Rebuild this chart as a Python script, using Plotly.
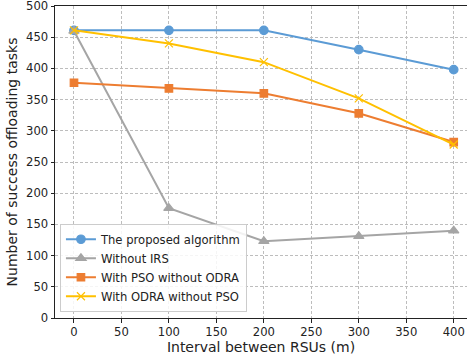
import plotly.graph_objects as go

x_vals = [0, 100, 200, 300, 400]
proposed = [461, 461, 461, 430, 398]
without_irs = [460, 176, 123, 131, 140]
pso_no_odra = [377, 368, 360, 328, 282]
odra_no_pso = [461, 440, 410, 352, 278]

series = [
    ("The proposed algorithm", proposed, "#5B9BD5", "circle", 8.5),
    ("Without IRS", without_irs, "#A5A5A5", "triangle-up", 9),
    ("With PSO without ODRA", pso_no_odra, "#ED7D31", "square", 7.5),
    ("With ODRA without PSO", odra_no_pso, "#FFC000", "x-thin", 8),
]

fig = go.Figure()
for name, ys, color, sym, size in series:
    fig.add_trace(go.Scatter(
        x=x_vals, y=ys, name=name, mode="lines+markers",
        line=dict(color=color, width=2),
        marker=dict(symbol=sym, size=size, color=color,
                    line=dict(color=color, width=1.2)),
    ))

font = dict(family="DejaVu Sans", size=11.6, color="#222")
fig.update_layout(
    width=467, height=358,
    margin=dict(l=55, r=0, t=6, b=40),
    paper_bgcolor="white", plot_bgcolor="white",
    font=font,
    showlegend=True,
    legend=dict(x=0.012, y=0.02, xanchor="left", yanchor="bottom",
                bgcolor="rgba(255,255,255,0.85)", bordercolor="#ccc", borderwidth=1,
                font=dict(family="DejaVu Sans", size=11.6, color="#222"),
                tracegroupgap=0, itemwidth=30),
    xaxis=dict(range=[-20, 414], tickvals=[0, 50, 100, 150, 200, 250, 300, 350, 400],
               automargin=False, ticklabeloverflow="allow",
               showgrid=True, gridcolor="#bdbdbd", griddash="3px,2px", gridwidth=1,
               showline=True, linecolor="#222", linewidth=1, mirror=True,
               ticks="outside", ticklen=3.5, tickcolor="#222",
               zeroline=False,
               title=dict(text="Interval between RSUs (m)", standoff=3)),
    yaxis=dict(range=[0, 500], tickvals=list(range(0, 501, 50)),
               automargin=False, ticklabeloverflow="allow",
               showgrid=True, gridcolor="#bdbdbd", griddash="3px,2px", gridwidth=1,
               showline=True, linecolor="#222", linewidth=1, mirror=False,
               ticks="outside", ticklen=3.5, tickcolor="#222",
               zeroline=False,
               title=dict(text="Number of success offloading tasks", standoff=5)),
)
fig.write_html("out.html", config={"displayModeBar": False},
               post_script="document.body.style.margin='0';")
